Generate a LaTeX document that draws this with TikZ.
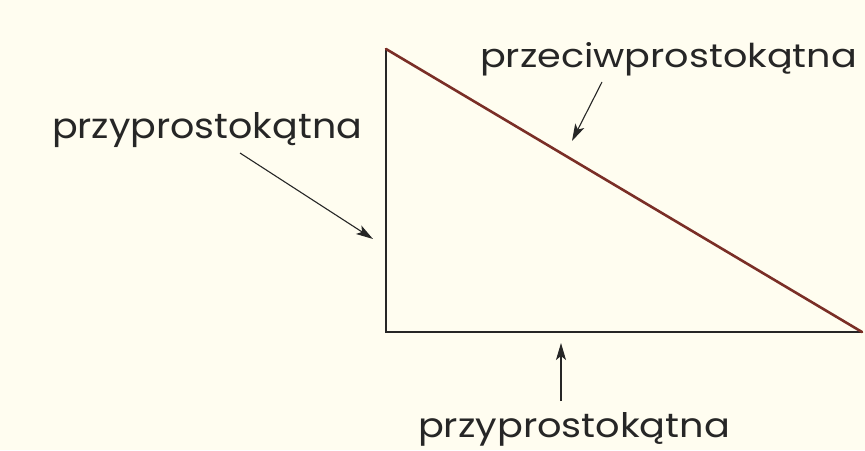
\documentclass[tikz,border=0pt]{standalone}
\usepackage{fontspec}
\usepackage{graphicx}
\setmainfont{Poppins}
\usetikzlibrary{arrows.meta}
\definecolor{bgcream}{HTML}{FFFDF0}
\definecolor{hypo}{HTML}{7A2E26}
\definecolor{ink}{HTML}{262626}
\tikzset{
  lbl/.style={anchor=base west, inner sep=0pt, outer sep=0pt, text=ink},
  leg/.style={draw=ink, line width=2pt},
  hyp/.style={draw=hypo, line width=2.6pt, line cap=round},
  pointer/.style={draw=ink, line width=1.1pt, -{Stealth[length=17pt,width=10pt,inset=4pt]}}
}
\begin{document}
\begin{tikzpicture}[x=1pt,y=-1pt]
\fill[bgcream] (0,0) rectangle (865,450);
\useasboundingbox (0,0) rectangle (865,450);
% triangle vertices
\coordinate (A) at (386,49);
\coordinate (B) at (386,332);
\coordinate (C) at (862,332);
\draw[leg] (A) -- (B) -- (C);
\draw[hyp] (A) -- (C);
% labels
\node[lbl] (hypLabel) at (480,67) {\resizebox{377pt}{25pt}{przeciwprostokątna}};
\node[lbl] (legLabelA) at (52,138) {\resizebox{310pt}{26pt}{przyprostokątna}};
\node[lbl] (legLabelB) at (418,437) {\resizebox{312pt}{25pt}{przyprostokątna}};
% arrow endpoints
\coordinate (hypS) at (602,82);
\coordinate (hypT) at (572,141);
\coordinate (legAS) at (240,153);
\coordinate (legAT) at (373,239);
\coordinate (legBS) at (561,401);
\coordinate (legBT) at (561,343);
\draw[pointer] (hypS) -- (hypT);
\draw[pointer] (legAS) -- (legAT);
\draw[pointer] (legBS) -- (legBT);
\end{tikzpicture}
\end{document}
